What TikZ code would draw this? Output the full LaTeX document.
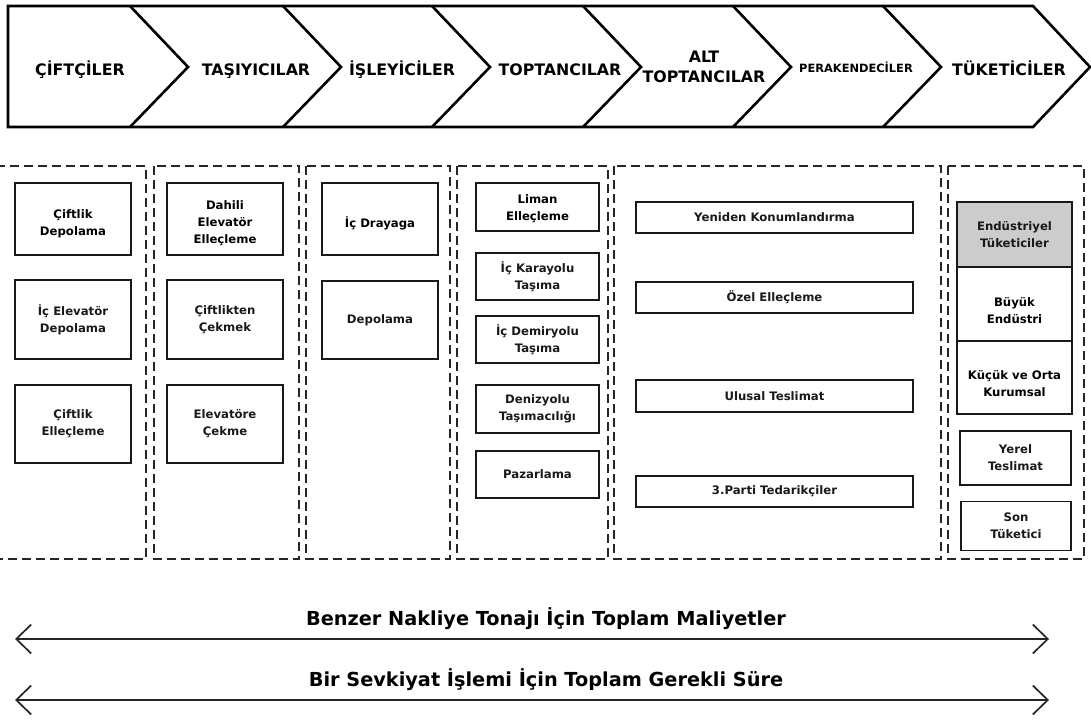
\documentclass[tikz,border=0pt]{standalone}
\usepackage{fontspec}
\setmainfont{DejaVu Sans}
\usetikzlibrary{arrows.meta}
\tikzset{
  hdr/.style={line width=2.6pt, line join=miter},
  hlabel/.style={font=\bfseries\fontsize{15.8}{20}\selectfont, align=center, inner sep=0pt},
  dbox/.style={draw, line width=2.3pt, dash pattern=on 9pt off 5pt, black!85},
  sbox/.style={draw, line width=1.9pt, black!90, inner sep=0pt, align=center,
    font=\bfseries\fontsize{11.7}{17}\selectfont},
  gbox/.style={sbox, fill=black!20},
  btext/.style={font=\bfseries\fontsize{11.7}{17}\selectfont, align=center, inner sep=0pt},
  span/.style={line width=1.7pt, black!85, {Straight Barb[length=15pt,width=29pt]}-{Straight Barb[length=15pt,width=29pt]}},
  blabel/.style={font=\bfseries\fontsize{19.3}{22}\selectfont, inner sep=0pt, anchor=base}
}
\begin{document}
\begin{tikzpicture}[x=1pt,y=-1pt]
\useasboundingbox (0,0) rectangle (1091,720);
% header chevron band
\draw[hdr] (8,6) -- (1033,6) -- (1090,67) -- (1033,127) -- (8,127) -- cycle;
\foreach \x in {130,283,432,583,733,883}
  \draw[hdr] (\x,6) -- (\x+58,67) -- (\x,127);
\node[hlabel, anchor=base] (h1) at (80,75.5) {ÇİFTÇİLER};
\node[hlabel, anchor=base] (h2) at (256,75.5) {TAŞIYICILAR};
\node[hlabel, anchor=base] (h3) at (402,75.5) {İŞLEYİCİLER};
\node[hlabel, anchor=base] (h4) at (560,75.5) {TOPTANCILAR};
\node[hlabel] (h5) at (704,67) {ALT\\TOPTANCILAR};
\node[hlabel, anchor=base, font=\bfseries\fontsize{11.4}{14}\selectfont] (h6) at (856,72) {PERAKENDECİLER};
\node[hlabel, anchor=base] (h7) at (1009,75.5) {TÜKETİCİLER};
% dashed columns
\draw[dbox] (-5,166) rectangle (146,559);
\draw[dbox] (154,166) rectangle (299,559);
\draw[dbox] (306,166) rectangle (450,559);
\draw[dbox] (457,166) rectangle (608,559);
\draw[dbox] (614,166) rectangle (941,559);
\draw[dbox] (948,166) rectangle (1084,559);
% column 1
\node[sbox, minimum width=116pt, minimum height=72pt] (c1a) at (73,219) {};
\node[btext] (t1a) at (73,224) {Çiftlik\\Depolama};
\node[sbox, minimum width=116pt, minimum height=79pt] (c1b) at (73,319.5) {İç Elevatör\\Depolama};
\node[sbox, minimum width=116pt, minimum height=78pt] (c1c) at (73,424) {Çiftlik\\Elleçleme};
% column 2
\node[sbox, minimum width=116pt, minimum height=72pt] (c2a) at (225,219) {};
\node[btext] (t2a) at (225,223) {Dahili\\Elevatör\\Elleçleme};
\node[sbox, minimum width=116pt, minimum height=79pt] (c2b) at (225,319.5) {Çiftlikten\\Çekmek};
\node[sbox, minimum width=116pt, minimum height=78pt] (c2c) at (225,424) {Elevatöre\\Çekme};
% column 3
\node[sbox, minimum width=116pt, minimum height=72pt] (c3a) at (380,219) {};
\node[btext] (t3a) at (380,223) {İç Drayaga};
\node[sbox, minimum width=116pt, minimum height=78pt] (c3b) at (380,320) {Depolama};
% column 4
\node[sbox, minimum width=123pt, minimum height=48pt] (c4a) at (537.5,207) {};
\node[btext] (t4a) at (537.5,208.5) {Liman\\Elleçleme};
\node[sbox, minimum width=123pt, minimum height=47pt] (c4b) at (537.5,276.5) {İç Karayolu\\Taşıma};
\node[sbox, minimum width=123pt, minimum height=47pt] (c4c) at (537.5,339.5) {İç Demiryolu\\Taşıma};
\node[sbox, minimum width=123pt, minimum height=48pt] (c4d) at (537.5,409) {Denizyolu\\Taşımacılığı};
\node[sbox, minimum width=123pt, minimum height=47pt] (c4e) at (537.5,474.5) {Pazarlama};
% column 5
\node[sbox, minimum width=277pt, minimum height=31pt] (c5a) at (774.5,217.5) {Yeniden Konumlandırma};
\node[sbox, minimum width=277pt, minimum height=31pt] (c5b) at (774.5,297.5) {Özel Elleçleme};
\node[sbox, minimum width=277pt, minimum height=32pt] (c5c) at (774.5,396) {Ulusal Teslimat};
\node[sbox, minimum width=277pt, minimum height=31pt] (c5d) at (774.5,491.5) {3.Parti Tedarikçiler};
% column 6
\node[gbox, minimum width=115pt, minimum height=65pt] (c6a) at (1014.5,234.5) {Endüstriyel\\Tüketiciler};
\node[sbox, minimum width=115pt, minimum height=74pt] (c6b) at (1014.5,304) {};
\node[btext] (t6b) at (1014.5,311) {Büyük\\Endüstri};
\node[sbox, minimum width=115pt, minimum height=73pt] (c6c) at (1014.5,377.5) {};
\node[btext] (t6c) at (1014.5,384) {Küçük ve Orta\\Kurumsal};
\node[sbox, minimum width=111pt, minimum height=54pt] (c6d) at (1015.5,458) {Yerel\\Teslimat};
\node[sbox, minimum width=110pt, minimum height=49pt] (c6e) at (1016,526) {Son\\Tüketici};
% bottom spans
\coordinate (s1l) at (15,639);
\coordinate (s1r) at (1049,639);
\coordinate (s2l) at (15,700);
\coordinate (s2r) at (1049,700);
\draw[span] (s1l) -- (s1r);
\draw[span] (s2l) -- (s2r);
\node[blabel] (b1) at (546,625) {Benzer Nakliye Tonajı İçin Toplam Maliyetler};
\node[blabel] (b2) at (546,686) {Bir Sevkiyat İşlemi İçin Toplam Gerekli Süre};
\end{tikzpicture}
\end{document}
